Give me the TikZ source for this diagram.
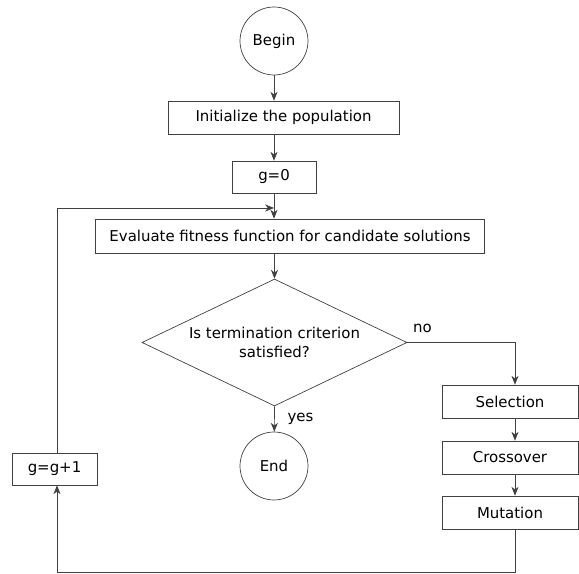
\documentclass[tikz,border=0pt]{standalone}
\usepackage{fontspec}
\setmainfont{DejaVu Sans}
\usetikzlibrary{shapes.geometric,arrows.meta}

\begin{document}
\begin{tikzpicture}[x=0.02cm,y=-0.02cm,font=\fontsize{8.5}{10.5}\selectfont,
    block/.style={draw=black!75,rectangle,minimum height=0.66cm,inner sep=2pt},
    terminal/.style={draw=black!75,circle,minimum size=1.36cm,inner sep=0pt},
    decision/.style={draw=black!75,diamond,aspect=2.09,inner sep=0pt,
        minimum width=5.3cm,minimum height=2.54cm,align=center},
    flow/.style={draw=black!75,-{Stealth[length=5pt,width=4pt,inset=1.5pt]}}] % genetic algorithm
\useasboundingbox (0,0) rectangle (579,574);
    % main column
    \node[terminal] (begin) at (274,41) {Begin};
    \node[block,minimum width=4.62cm] (init) at (283.5,117.5) {Initialize the population};
    \node[block,minimum width=1.68cm,minimum height=0.64cm] (gzero) at (274,177) {g=0};
    \node[block,minimum width=7.78cm,minimum height=0.68cm] (eval) at (290,236) {Evaluate fitness function for candidate solutions};
    \node[decision] (test) at (274.5,342.5) {Is termination criterion\\satisfied?};
    \node[terminal] (done) at (274,466) {End};
    % operators
    \node[block,minimum width=2.72cm] (select) at (510,401.5) {Selection};
    \node[block,minimum width=2.72cm] (cross) at (510,457.5) {Crossover};
    \node[block,minimum width=2.72cm] (mutate) at (510,512.5) {Mutation};
    \node[block,minimum width=1.7cm,minimum height=0.64cm] (incr) at (54.5,469) {g=g+1};
    % loop points
    \coordinate (merge) at (274,208);
    \coordinate (corner) at (515,572.5);
    \coordinate (back) at (57,572.5);

    \draw[flow] (begin) -- (begin |- init.north);
    \draw[flow] (init.south -| gzero) -- (gzero);
    \draw[flow] (gzero) -- (gzero |- eval.north);
    \draw[flow] (incr.north -| back) |- (merge);
    \draw[flow] (test |- eval.south) -- (test.north);
    \draw[flow] (test.south) -- node[right,xshift=4pt] {yes} (done);
    \draw[flow] (test.east) -- node[above,pos=0.14,yshift=2pt] {no} (test.east -| corner) -- (select.north -| corner);
    \draw[flow] (select.south -| corner) -- (cross.north -| corner);
    \draw[flow] (cross.south -| corner) -- (mutate.north -| corner);
    \draw[flow] (mutate.south -| corner) -- (corner) -- (back) -- (incr.south -| back);
\end{tikzpicture}
\end{document}
